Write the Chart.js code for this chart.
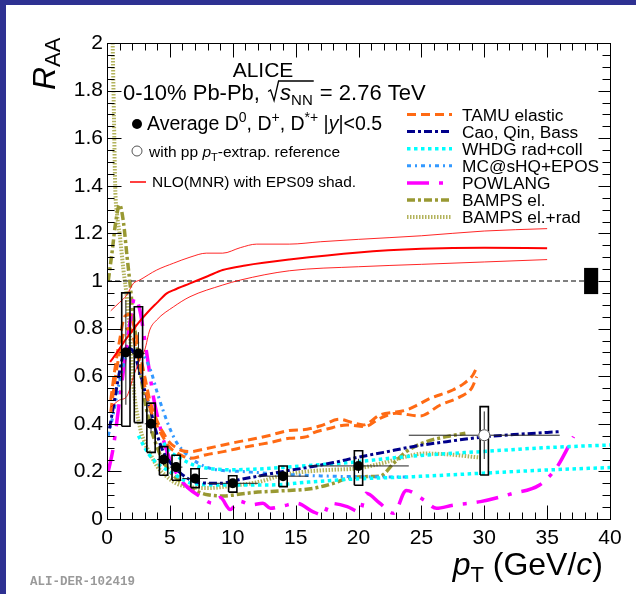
<!DOCTYPE html>
<html>
<head>
<meta charset="utf-8">
<script src="https://cdn.jsdelivr.net/npm/chart.js@4.4.1/dist/chart.umd.min.js"></script>
<style>
  html, body { margin: 0; padding: 0; background: #fff; }
  canvas { display: block; }
</style>
</head>
<body>
<canvas id="raa" width="636" height="594"></canvas>
<script>
// ---- Averaged D0, D+, D*+ R_AA, 0-10% Pb-Pb at 2.76 TeV ----
const binLow   = [1, 2, 3, 4, 5, 6, 8, 12, 16, 24];
const binHigh  = [2, 3, 4, 5, 6, 8, 12, 16, 24, 36];
const raa      = [0.70, 0.695, 0.40, 0.25, 0.218, 0.17, 0.15, 0.18, 0.223, 0.352];
const statErr  = [0.22, 0.09, 0.04, 0.025, 0.02, 0.015, 0.012, 0.02, 0.03, 0.10];
const sysUp    = [0.25, 0.197, 0.087, 0.054, 0.05, 0.041, 0.032, 0.043, 0.064, 0.12];
const sysDown  = [0.31, 0.29, 0.12, 0.066, 0.055, 0.038, 0.037, 0.044, 0.081, 0.167];
const ppExtrap = [false, false, false, false, false, false, false, false, false, true];
const normUnc  = 0.055;

// ---- axis ticks ----
const xTickValues = [0, 5, 10, 15, 20, 25, 30, 35, 40];
const yTickValues = [0, 0.2, 0.4, 0.6, 0.8, 1, 1.2, 1.4, 1.6, 1.8, 2];

// ---- pQCD NLO (MNR) with EPS09 shadowing: central value and band edges ----
const nloCentral = [[0.25,0.66],[0.8,0.70],[1.3,0.74],[2.0,0.79],[2.6,0.83],[3.4,0.878],[3.95,0.907],[4.75,0.948],[5.3,0.962],[6.6,0.99],[8,1.02],[9.2,1.046],[11,1.065],[14.5,1.09],[20,1.12],[25,1.135],[30,1.14],[35,1.138]];
const nloHigh    = [[0.3,0.875],[1.0,0.91],[1.56,0.94],[2.1,0.99],[2.6,1.004],[3.95,1.046],[5.3,1.075],[6.6,1.10],[7.9,1.117],[9.2,1.117],[10.6,1.14],[11.9,1.155],[14.5,1.155],[17,1.165],[20,1.175],[25,1.19],[30,1.21],[35,1.22]];
const nloLow     = [[0.3,0.47],[1.0,0.50],[1.56,0.514],[2.1,0.598],[2.6,0.668],[3.0,0.71],[3.4,0.794],[3.95,0.836],[5.3,0.892],[6.6,0.934],[9.2,0.983],[10.6,1.004],[14.5,1.043],[20,1.06],[25,1.07],[30,1.08],[35,1.09]];

// ---- transport model predictions ----
const tamuHigh = [[0.3,0.50],[0.6,0.62],[1.0,0.75],[1.4,0.85],[1.8,0.86],[2.2,0.80],[2.6,0.70],[3.0,0.60],[3.4,0.50],[4.0,0.41],[4.5,0.36],[5.0,0.32],[5.5,0.30],[6.0,0.287],[6.6,0.283],[7.9,0.296],[9.25,0.311],[10.5,0.325],[11.9,0.339],[13.0,0.352],[14.5,0.372],[15.9,0.377],[17.0,0.392],[18.5,0.419],[19.5,0.405],[20.4,0.395],[21.7,0.437],[23.0,0.450],[23.8,0.458],[24.8,0.482],[25.7,0.507],[26.5,0.522],[27.5,0.542],[28.4,0.57],[29.1,0.605],[29.4,0.637]];
const tamuLow  = [[0.3,0.45],[0.6,0.57],[1.0,0.70],[1.4,0.79],[1.8,0.80],[2.2,0.74],[2.6,0.65],[3.0,0.56],[3.4,0.47],[4.0,0.39],[4.5,0.34],[5.0,0.30],[5.5,0.28],[6.0,0.265],[6.6,0.255],[7.9,0.27],[9.25,0.283],[10.5,0.297],[11.9,0.311],[13.0,0.322],[14.5,0.339],[15.9,0.346],[16.4,0.362],[17.5,0.378],[19.1,0.395],[20.5,0.388],[21.7,0.423],[23.0,0.444],[24.9,0.433],[26.5,0.479],[28.1,0.514],[29.0,0.55],[29.4,0.598]];
const caoQinBass = [[0.2,0.38],[0.6,0.50],[1.0,0.62],[1.5,0.72],[2.0,0.71],[2.6,0.62],[3.0,0.54],[3.4,0.47],[3.95,0.36],[4.5,0.28],[5.5,0.21],[6.6,0.165],[7.5,0.152],[9.0,0.15],[10.5,0.165],[12.0,0.18],[14.0,0.20],[16.0,0.217],[18.0,0.237],[20.0,0.26],[22.0,0.28],[24.4,0.305],[27.0,0.325],[30.0,0.345],[33.0,0.357],[36.0,0.367]];
const whdgHigh = [[4.5,0.32],[5.0,0.285],[6.0,0.25],[7.0,0.225],[8.0,0.213],[10.0,0.207],[13.0,0.213],[16.0,0.225],[19.0,0.236],[24.4,0.265],[29.7,0.283],[35.0,0.300],[40.0,0.311]];
const whdgLow  = [[2.5,0.35],[3.0,0.30],[3.5,0.26],[4.2,0.225],[5.3,0.19],[6.6,0.152],[9.0,0.143],[13.0,0.143],[16.0,0.155],[19.0,0.166],[24.4,0.178],[29.7,0.192],[35.0,0.206],[40.0,0.216]];
const mcShqEpos = [[0.1,0.35],[0.5,0.44],[1.0,0.58],[1.5,0.68],[2.0,0.71],[2.5,0.71],[3.0,0.68],[3.5,0.62],[4.0,0.53],[4.5,0.45],[5.0,0.38],[5.5,0.325],[6.0,0.29],[6.6,0.258],[7.9,0.218],[9.0,0.205],[10.6,0.2],[12.0,0.195],[14.0,0.188],[17.0,0.181],[20.0,0.178],[23.8,0.176]];
const powlang = [[0.1,0.20],[0.5,0.30],[1.0,0.50],[1.5,0.70],[1.9,0.85],[2.2,0.93],[2.6,0.88],[3.15,0.70],[3.7,0.51],[4.2,0.39],[5.0,0.25],[6.1,0.15],[7.4,0.095],[8.4,0.066],[9.0,0.09],[9.8,0.04],[10.5,0.075],[11.5,0.06],[12.4,0.066],[13.0,0.045],[14.0,0.055],[15.1,0.066],[16.4,0.03],[17.2,0.017],[17.7,0.066],[19.1,0.052],[20.1,0.03],[20.6,0.108],[21.7,0.066],[22.8,0.024],[23.8,0.12],[25.2,0.08],[26.2,0.045],[27.5,0.058],[29.7,0.073],[32.3,0.108],[34.4,0.143],[35.8,0.22],[37.1,0.346]];
const bampsEl = [[0.1,1.0],[0.4,1.12],[0.7,1.25],[1.0,1.32],[1.3,1.25],[1.6,1.1],[1.85,0.98],[2.1,0.85],[2.4,0.72],[2.7,0.6],[3.0,0.5],[3.5,0.38],[4.0,0.3],[4.5,0.24],[5.0,0.2],[6.0,0.15],[7.0,0.12],[8.0,0.102],[9.25,0.097],[10.6,0.105],[12.0,0.113],[13.8,0.118],[16.4,0.129],[18.0,0.15],[19.1,0.171],[20.5,0.178],[21.7,0.18],[22.8,0.234],[23.8,0.283],[25.4,0.325],[27.0,0.346],[28.5,0.36]];
const bampsElRad = [[0.45,2.0],[0.55,1.7],[0.65,1.4],[0.8,1.28],[1.0,1.2],[1.3,1.05],[1.6,0.92],[1.9,0.72],[2.1,0.56],[2.6,0.39],[3.0,0.32],[3.4,0.277],[4.0,0.22],[4.5,0.19],[5.5,0.15],[6.5,0.135],[8.0,0.13],[10.0,0.14],[12.0,0.155],[14.0,0.185],[16.0,0.2],[18.0,0.207],[20.0,0.213],[21.7,0.232],[23.8,0.262],[25.2,0.275],[27.0,0.272],[29.7,0.258]];

// ---- styling ----
const FONT = '"Liberation Sans", Arial, Helvetica, sans-serif';
const BOX_HALF = 0.33;          // half-width of systematic boxes (GeV/c)
const NORM_X = 38.5, NORM_HALF = 0.56;
const models = [
  { name: 'TAMU elastic',       color: '#ff6a13', width: 3,   dash: [9, 5],          sets: [tamuHigh, tamuLow] },
  { name: 'Cao, Qin, Bass',     color: '#00008b', width: 3,   dash: [8, 3, 3, 3],    sets: [caoQinBass] },
  { name: 'WHDG rad+coll',      color: '#00ffff', width: 3.5, dash: [3.5, 3.5],      sets: [whdgHigh, whdgLow] },
  { name: 'MC@sHQ+EPOS',        color: '#3399ff', width: 3,   dash: [4, 4, 2, 4],    sets: [mcShqEpos] },
  { name: 'POWLANG',            color: '#ff00ff', width: 3.5, dash: [22, 10, 4, 10], sets: [powlang] },
  { name: 'BAMPS el.',          color: '#999933', width: 3.5, dash: [8, 3, 3, 3],    sets: [bampsEl] },
  { name: 'BAMPS el.+rad',      color: '#b3b35c', width: 4,   dash: [1.5, 1.5],      sets: [bampsElRad] }
];

const xy = arr => arr.map(([x, y]) => ({ x, y }));
const ptCentre = binLow.map((lo, i) => (lo + binHigh[i]) / 2);

// systematic boxes as closed outlines, separated by gaps
const boxOutline = [];
ptCentre.forEach((p, i) => {
  const a = p - BOX_HALF, b = p + BOX_HALF;
  const lo = raa[i] - sysDown[i], hi = raa[i] + sysUp[i];
  boxOutline.push({x:a,y:lo},{x:a,y:hi},{x:b,y:hi},{x:b,y:lo},{x:a,y:lo},{x:p,y:null});
});
// statistical bars and bin widths
const errBars = [];
ptCentre.forEach((p, i) => {
  errBars.push({x:p,y:raa[i]-statErr[i]},{x:p,y:raa[i]+statErr[i]},{x:p,y:null});
  errBars.push({x:binLow[i],y:raa[i]},{x:binHigh[i],y:raa[i]},{x:p,y:null});
});

const datasets = [
  { label: 'filled', data: ptCentre.map((p,i)=>({x:p,y:raa[i]})).filter((d,i)=>!ppExtrap[i]),
    showLine: false, pointRadius: 5, pointBackgroundColor: '#000', pointBorderColor: '#000', pointBorderWidth: 0, order: 0 },
  { label: 'open', data: ptCentre.map((p,i)=>({x:p,y:raa[i]})).filter((d,i)=>ppExtrap[i]),
    showLine: false, pointRadius: 5.5, pointBackgroundColor: '#fff', pointBorderColor: '#fff', pointBorderWidth: 1, order: 0 },
  { label: 'stat', data: errBars, borderColor: '#222', borderWidth: 1, pointRadius: 0, order: 1 },
  { label: 'sys', data: boxOutline, borderColor: '#000', borderWidth: 1.6, pointRadius: 0, order: 2 },
  { label: 'nlo', data: xy(nloCentral), borderColor: '#ff0000', borderWidth: 2, pointRadius: 0, cubicInterpolationMode: 'monotone', order: 3 },
  { label: 'nloHi', data: xy(nloHigh), borderColor: 'rgba(255,0,0,0.85)', borderWidth: 1, pointRadius: 0, cubicInterpolationMode: 'monotone', order: 3 },
  { label: 'nloLo', data: xy(nloLow), borderColor: 'rgba(255,0,0,0.85)', borderWidth: 1, pointRadius: 0, cubicInterpolationMode: 'monotone', order: 3 },
  { label: 'unity', data: [{x:0,y:1},{x:NORM_X-NORM_HALF,y:1}], borderColor: '#000', borderWidth: 1, borderDash: [5, 3], pointRadius: 0, order: 4 }
];
models.forEach((m, k) => m.sets.forEach(s => datasets.push({
  label: m.name, data: xy(s), borderColor: m.color, borderWidth: m.width, borderDash: m.dash,
  borderCapStyle: 'butt', pointRadius: 0, cubicInterpolationMode: 'monotone', order: 10 + k
})));

// rich text helper: sequence of runs with size / italic / vertical shift
function runs(ctx, x, y, parts, draw = true) {
  let cx = x;
  for (const p of parts) {
    ctx.font = (p.i ? 'italic ' : '') + p.s + 'px ' + FONT;
    if (draw) ctx.fillText(p.t, cx, y + (p.dy || 0));
    cx += ctx.measureText(p.t).width;
  }
  return cx;
}

const decorations = {
  id: 'decorations',
  beforeDraw(chart) {
    const { ctx, width, height } = chart;
    ctx.save();
    ctx.fillStyle = '#fff';
    ctx.fillRect(0, 0, width, height);
    ctx.fillStyle = '#2e3192';
    ctx.fillRect(0, 0, width, 5);
    ctx.fillRect(0, 0, 6, height);
    ctx.restore();
  },
  afterDatasetsDraw(chart) {
    // open marker outline on top of its error bars
    const { ctx } = chart;
    const xs = chart.scales.x, ys = chart.scales.y;
    ctx.save();
    ptCentre.forEach((p, i) => {
      if (!ppExtrap[i]) return;
      ctx.beginPath();
      ctx.arc(xs.getPixelForValue(p), ys.getPixelForValue(raa[i]), 5.5, 0, Math.PI * 2);
      ctx.fillStyle = '#fff'; ctx.fill();
      ctx.strokeStyle = '#555'; ctx.lineWidth = 1; ctx.stroke();
    });
    ctx.restore();
  },
  afterDraw(chart) {
    const { ctx, chartArea: a } = chart;
    const xs = chart.scales.x, ys = chart.scales.y;
    ctx.save();
    // frame
    ctx.strokeStyle = '#000'; ctx.lineWidth = 1;
    const L = Math.round(a.left) + 0.5, R = Math.round(a.right) + 0.5;
    const T = Math.round(a.top) + 0.5, B = Math.round(a.bottom) + 0.5;
    ctx.strokeRect(L, T, R - L, B - T);
    // ticks on all four sides
    ctx.beginPath();
    for (let v = 0; v <= 40; v += 1) {
      const px = Math.round(xs.getPixelForValue(v)) + 0.5;
      const len = v % 5 === 0 ? 14 : 7;
      ctx.moveTo(px, B); ctx.lineTo(px, B - len);
      ctx.moveTo(px, T); ctx.lineTo(px, T + len);
    }
    for (let k = 0; k <= 40; k++) {
      const py = Math.round(ys.getPixelForValue(k * 0.05)) + 0.5;
      const major = k % 4 === 0;
      ctx.moveTo(L, py); ctx.lineTo(L + (major ? 14 : 7), py);
      ctx.moveTo(R, py); ctx.lineTo(R - (major ? 12 : 8), py);
    }
    ctx.stroke();

    // global normalisation uncertainty
    ctx.fillStyle = '#000';
    const nx0 = xs.getPixelForValue(NORM_X - NORM_HALF), nx1 = xs.getPixelForValue(NORM_X + NORM_HALF);
    const ny0 = ys.getPixelForValue(1 + normUnc), ny1 = ys.getPixelForValue(1 - normUnc);
    ctx.fillRect(nx0, ny0, nx1 - nx0, ny1 - ny0);

    // axis titles
    ctx.fillStyle = '#000';
    ctx.textBaseline = 'alphabetic';
    ctx.save();
    ctx.translate(55, 90);
    ctx.rotate(-Math.PI / 2);
    runs(ctx, 0, 0, [{ t: 'R', s: 32, i: true }, { t: 'AA', s: 22, dy: 5 }]);
    ctx.restore();
    const xTitle = [{ t: 'p', s: 32, i: true }, { t: 'T', s: 22, dy: 7 }, { t: ' (GeV/', s: 32 }, { t: 'c', s: 32, i: true }, { t: ')', s: 32 }];
    const w = runs(ctx, 0, 0, xTitle, false);
    runs(ctx, 603 - w, 575, xTitle);

    // left legend block
    ctx.font = '21px ' + FONT;
    ctx.textAlign = 'center';
    ctx.fillText('ALICE', 263, 77);
    ctx.textAlign = 'left';
    let cx = runs(ctx, 123, 99.5, [{ t: '0-10% Pb-Pb, ', s: 22 }]);
    const by = 99.5, sx = cx + 2;
    const inner = runs(ctx, sx + 12, by, [{ t: 's', s: 22, i: true }, { t: 'NN', s: 15, dy: 5 }]);
    ctx.beginPath();
    ctx.lineWidth = 1.3;
    ctx.moveTo(sx, by - 8); ctx.lineTo(sx + 2.5, by - 9.5); ctx.lineTo(sx + 6, by + 1);
    ctx.lineTo(sx + 10.5, by - 18.5); ctx.lineTo(inner + 1, by - 18.5);
    ctx.stroke();
    runs(ctx, inner + 1, by, [{ t: ' = 2.76 TeV', s: 22 }]);

    ctx.beginPath(); ctx.arc(137, 124, 5, 0, Math.PI * 2); ctx.fill();
    runs(ctx, 147, 130, [
      { t: 'Average D', s: 19.5 }, { t: '0', s: 14, dy: -8 }, { t: ', D', s: 19.5 }, { t: '+', s: 14, dy: -8 },
      { t: ', D', s: 19.5 }, { t: '*+', s: 14, dy: -8 }, { t: ' |', s: 19.5 }, { t: 'y', s: 19.5, i: true }, { t: '|<0.5', s: 19.5 }
    ]);
    ctx.beginPath(); ctx.arc(137, 151, 5, 0, Math.PI * 2);
    ctx.strokeStyle = '#555'; ctx.lineWidth = 1; ctx.stroke();
    runs(ctx, 149, 157, [{ t: 'with pp ', s: 15.5 }, { t: 'p', s: 15.5, i: true }, { t: 'T', s: 11, dy: 4 }, { t: '-extrap. reference', s: 15.5 }]);
    ctx.beginPath(); ctx.moveTo(130, 182); ctx.lineTo(146, 182);
    ctx.strokeStyle = '#ff0000'; ctx.lineWidth = 1.5; ctx.stroke();
    runs(ctx, 152, 187, [{ t: 'NLO(MNR) with EPS09 shad.', s: 15.5 }]);

    // model legend
    models.forEach((m, k) => {
      const y = 114.5 + k * 17.1;
      ctx.beginPath();
      ctx.setLineDash(m.dash);
      ctx.lineCap = 'butt';
      ctx.strokeStyle = m.color; ctx.lineWidth = m.width;
      ctx.moveTo(407, y); ctx.lineTo(452, y); ctx.stroke();
      ctx.setLineDash([]);
      ctx.fillStyle = '#000';
      runs(ctx, 462, y + 6, [{ t: m.name, s: 17.3 }]);
    });

    // figure identifier
    ctx.fillStyle = '#9a9a9a';
    ctx.font = 'bold 12.5px "Liberation Mono", "DejaVu Sans Mono", monospace';
    ctx.fillText('ALI-DER-102419', 30, 585);
    ctx.restore();
  }
};

new Chart(document.getElementById('raa'), {
  type: 'line',
  data: { datasets },
  options: {
    responsive: false,
    animation: false,
    events: [],
    layout: { padding: { left: 0, top: 43, right: 26, bottom: 0 } },
    plugins: { legend: { display: false }, tooltip: { enabled: false } },
    elements: { line: { tension: 0 } },
    scales: {
      x: {
        type: 'linear', min: 0, max: 40,
        grid: { display: false, drawTicks: false }, border: { display: false },
        afterBuildTicks: s => { s.ticks = xTickValues.map(v => ({ value: v })); },
        afterFit: s => { s.height = 75; },
        ticks: { font: { family: FONT, size: 21 }, color: '#000', padding: 7, maxRotation: 0, autoSkip: false }
      },
      y: {
        type: 'linear', min: 0, max: 2,
        grid: { display: false, drawTicks: false }, border: { display: false },
        afterBuildTicks: s => { s.ticks = yTickValues.map(v => ({ value: v })); },
        afterFit: s => { s.width = 107; },
        ticks: { font: { family: FONT, size: 21 }, color: '#000', padding: 4, autoSkip: false,
                 callback: v => String(Math.round(v * 10) / 10) }
      }
    }
  },
  plugins: [decorations]
});
</script>
</body>
</html>
